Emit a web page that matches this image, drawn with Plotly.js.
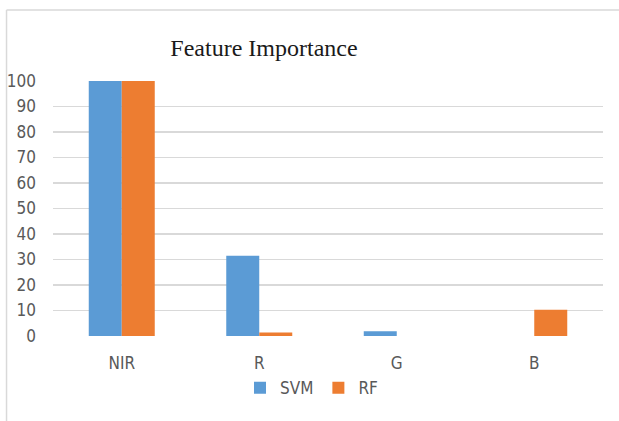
<!DOCTYPE html>
<html>
<head>
<meta charset="utf-8">
<script src="https://cdn.plot.ly/plotly-3.0.1.min.js"></script>
<style>html,body{margin:0;padding:0;background:#fff}#chart{width:619px;height:421px}</style>
</head>
<body>
<div id="chart"></div>
<script>
var categories = ["NIR", "R", "G", "B"];
var svmValues = [100, 31.5, 1.9, 0];
var rfValues = [100, 1.4, 0, 10.3];
var yTicks = [0, 10, 20, 30, 40, 50, 60, 70, 80, 90, 100];

var tickFont = {family: "DejaVu Sans Condensed, Liberation Sans Narrow, sans-serif", size: 17, color: "#595959"};

var traces = [
  {type: "bar", name: "SVM", x: categories, y: svmValues, marker: {color: "#5B9BD5"}},
  {type: "bar", name: "RF", x: categories, y: rfValues, marker: {color: "#ED7D31"}}
];

var layout = {
  width: 619, height: 421,
  margin: {l: 53, r: 16, t: 81, b: 85},
  paper_bgcolor: "#ffffff", plot_bgcolor: "#ffffff",
  title: {text: "Feature Importance", font: {family: "Liberation Serif, Times New Roman, serif", size: 24, color: "#1a1a1a"},
          x: 0.3836, xref: "paper", xanchor: "center", y: 0.887, yref: "container", yanchor: "middle"},
  barmode: "group",
  bargap: 0.52, bargroupgap: 0,
  showlegend: true,
  legend: {orientation: "h", x: 0.47, xanchor: "center", y: -0.205, yanchor: "middle",
           bgcolor: "rgba(0,0,0,0)", font: tickFont, tracegroupgap: 0},
  xaxis: {showgrid: false, zeroline: false, showline: false, ticks: "", tickfont: tickFont, ticklabelstandoff: 15},
  yaxis: {range: [0, 100], tickvals: yTicks, ticktext: yTicks.map(String), showgrid: true, gridcolor: "#d9d9d9", gridwidth: 1.5,
          zeroline: false, showline: false, ticks: "", tickfont: tickFont, ticklabelstandoff: 16},
  shapes: [
    {type: "line", xref: "paper", yref: "paper", x0: -0.0845, x1: 1.05, y0: 1.2784, y1: 1.2784, line: {color: "#d9d9d9", width: 1.5}},
    {type: "line", xref: "paper", yref: "paper", x0: -0.0845, x1: -0.0845, y0: 1.2784, y1: -0.34, line: {color: "#d9d9d9", width: 1.5}}
  ]
};

Plotly.newPlot("chart", traces, layout, {displayModeBar: false, staticPlot: true});
</script>
</body>
</html>
